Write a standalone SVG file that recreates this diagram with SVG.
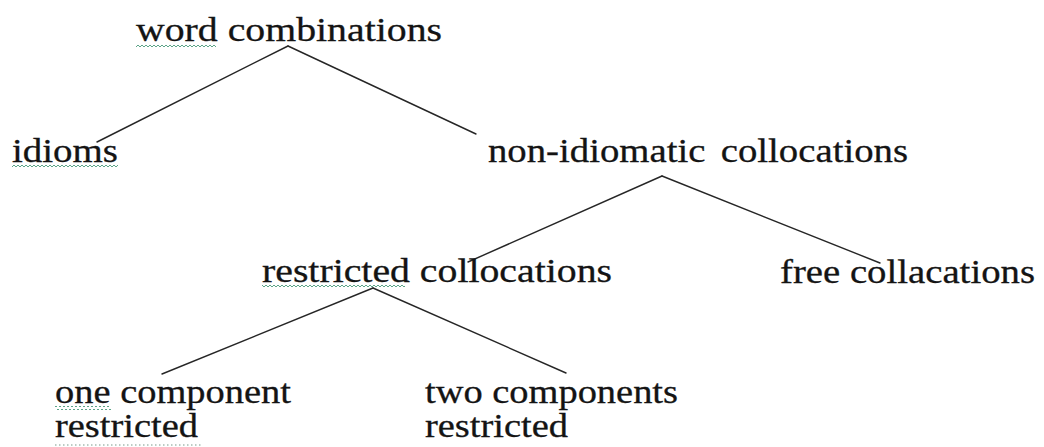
<svg xmlns="http://www.w3.org/2000/svg" width="1044" height="447" viewBox="0 0 1044 447">
<style>
.c line{stroke:#262626;stroke-width:1.4;stroke-linecap:round}
.sq{fill:url(#wave)}
.t{font-family:'Liberation Serif','Times New Roman',serif;font-size:34px;fill:#141414;stroke:#141414;stroke-width:0.3}
</style>
<defs>
<pattern id="wave" x="0" y="0" width="4" height="4" patternUnits="userSpaceOnUse">
<path d="M0,3 L2,1 L4,3" fill="none" stroke="#4a9a7a" stroke-width="0.9"/>
</pattern>
</defs>
<rect width="1044" height="447" fill="#ffffff"/>
<g class="c" id="connectors">
<line x1="288" y1="46" x2="97" y2="142"/>
<line x1="288" y1="46" x2="476" y2="134"/>
<line x1="662" y1="176" x2="468" y2="262"/>
<line x1="662" y1="176" x2="880" y2="263"/>
<line x1="373" y1="288" x2="162" y2="374"/>
<line x1="373" y1="288" x2="566" y2="373"/>
</g>
<g id="word-combinations">
<text class="t" x="136" y="41" textLength="306" lengthAdjust="spacingAndGlyphs">word combinations</text>
<rect class="sq" x="136" y="44" width="80" height="4"/>
</g>
<g id="idioms">
<text class="t" x="12" y="162" textLength="106" lengthAdjust="spacingAndGlyphs">idioms</text>
<rect class="sq" x="12" y="164" width="106" height="4"/>
</g>
<g id="non-idiomatic-collocations">
<text class="t" x="488" y="162" textLength="420" lengthAdjust="spacingAndGlyphs" word-spacing="5">non-idiomatic collocations</text>
</g>
<g id="restricted-collocations">
<text class="t" x="262" y="282" textLength="350" lengthAdjust="spacingAndGlyphs">restricted collocations</text>
<rect class="sq" x="262" y="284" width="143" height="4"/>
</g>
<g id="free-collacations">
<text class="t" x="780" y="283" textLength="255" lengthAdjust="spacingAndGlyphs">free collacations</text>
</g>
<g id="one-component-restricted">
<text class="t" x="55" y="403" textLength="236" lengthAdjust="spacingAndGlyphs">one component</text>
<text class="t" x="55" y="437" textLength="143" lengthAdjust="spacingAndGlyphs">restricted</text>
<rect class="sq" x="55" y="406" width="56" height="4"/>
<line x1="55" y1="445" x2="202" y2="445" stroke="#7a9a8a" stroke-width="1.2" stroke-dasharray="1.5,2.5"/>
</g>
<g id="two-components-restricted">
<text class="t" x="425" y="403" textLength="253" lengthAdjust="spacingAndGlyphs">two components</text>
<text class="t" x="425" y="437" textLength="143" lengthAdjust="spacingAndGlyphs">restricted</text>
</g>
</svg>
